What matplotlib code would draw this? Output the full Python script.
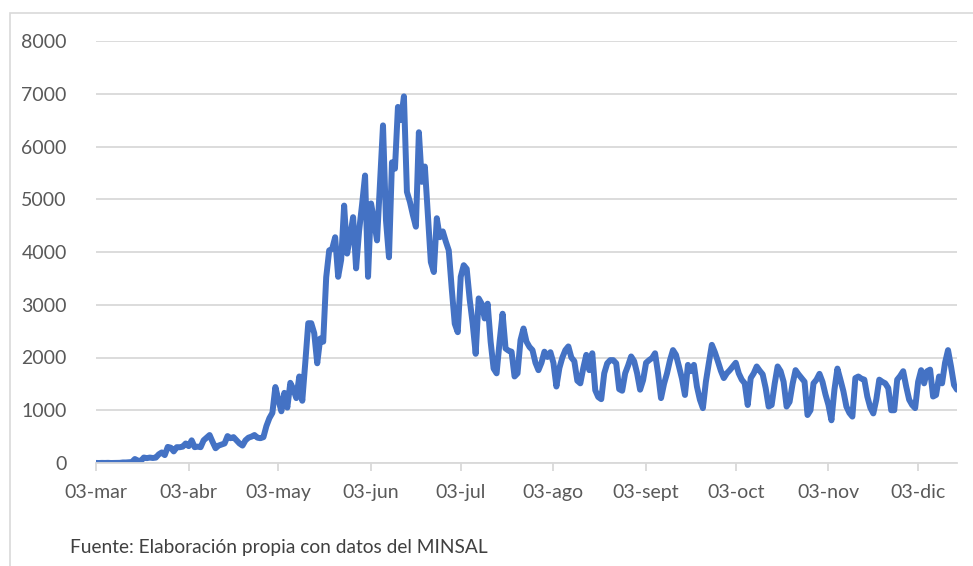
import numpy as np
import pandas as pd
import matplotlib
matplotlib.use('Agg')
import matplotlib.pyplot as plt
from matplotlib.patches import Rectangle

# daily new cases, from 03-mar-2020 to 16-dic-2020
casos = [
    1, 0, 2, 1, 3, 0, 1, 2, 3, 10, 10, 13, 18, 75, 46, 37, 104, 92, 103, 95,
    102, 164, 200, 150, 305, 290, 220, 300, 299, 310, 370, 320, 430, 300, 310, 300, 430, 480, 530, 400,
    280, 330, 350, 370, 510, 470, 490, 430, 370, 330, 430, 480, 500, 530, 480, 470, 490, 700, 850, 950,
    1440, 1200, 980, 1330, 1050, 1520, 1400, 1230, 1640, 1180, 1900, 2650, 2650, 2460, 1890, 2360, 2300, 3520, 4030, 4060,
    4280, 3530, 3850, 4880, 3970, 4300, 4660, 3690, 4400, 4900, 5450, 3530, 4920, 4600, 4220, 5300, 6400, 4600, 3900, 5700,
    5580, 6750, 6500, 6950, 5140, 4950, 4700, 4480, 6270, 5330, 5620, 4700, 3810, 3620, 4640, 4280, 4390, 4200, 4030, 3300,
    2640, 2480, 3530, 3750, 3680, 3100, 2640, 2070, 3120, 3020, 2740, 3020, 2300, 1790, 1700, 2300, 2830, 2170, 2130, 2110,
    1640, 1700, 2330, 2550, 2300, 2200, 2140, 1900, 1760, 1900, 2110, 2010, 2100, 1900, 1450, 1800, 2000, 2140, 2210, 2000,
    1930, 1560, 1510, 1800, 2050, 1760, 2080, 1380, 1250, 1210, 1700, 1890, 1950, 1950, 1890, 1400, 1370, 1700, 1850, 2020,
    1930, 1700, 1390, 1570, 1900, 1950, 1990, 2080, 1700, 1230, 1500, 1700, 1950, 2140, 2050, 1830, 1600, 1290, 1860, 1740,
    1860, 1450, 1200, 1040, 1540, 1900, 2240, 2100, 1930, 1750, 1610, 1700, 1760, 1830, 1900, 1700, 1580, 1510, 1100, 1610,
    1700, 1830, 1750, 1680, 1420, 1070, 1100, 1500, 1830, 1740, 1540, 1070, 1160, 1500, 1760, 1680, 1610, 1540, 910, 1000,
    1510, 1580, 1690, 1540, 1300, 1100, 810, 1390, 1790, 1580, 1360, 1070, 950, 880, 1610, 1640, 1600, 1580, 1260, 1050,
    940, 1200, 1580, 1540, 1510, 1420, 1000, 1000, 1580, 1650, 1740, 1450, 1200, 1100, 1040, 1540, 1760, 1510, 1740, 1770,
    1260, 1290, 1640, 1510, 1900, 2140, 1830, 1480, 1390,
]
fechas = pd.date_range('2020-03-03', periods=len(casos), freq='D')

meses = ['mar', 'abr', 'may', 'jun', 'jul', 'ago', 'sept', 'oct', 'nov', 'dic']
ticks_x = pd.to_datetime(['2020-03-03', '2020-04-03', '2020-05-03', '2020-06-03', '2020-07-03',
                          '2020-08-03', '2020-09-03', '2020-10-03', '2020-11-03', '2020-12-03'])
etiquetas_x = ['03-' + m for m in meses]
ticks_y = np.arange(0, 8001, 1000)

plt.rcParams['font.family'] = ['Lato', 'DejaVu Sans']

fig = plt.figure(figsize=(9.73, 5.66), dpi=100)
ax = fig.add_axes([96 / 973, 1 - 463 / 566, (957 - 96) / 973, (463 - 41) / 566])

ax.plot(fechas, casos, color='#4472C4', linewidth=4.3, solid_joinstyle='round', solid_capstyle='round')

ax.set_yticks(ticks_y)
ax.set_xticks(ticks_x)
ax.set_xticklabels(etiquetas_x)
ax.set_xlim(fechas[0], fechas[-1])
ax.set_ylim(0, 8000)
ax.grid(axis='y', color='#d9d9d9', linewidth=1.3)
ax.set_axisbelow(True)
for s in ['left', 'right', 'top']:
    ax.spines[s].set_visible(False)
ax.spines['bottom'].set_color('#d9d9d9')
ax.spines['bottom'].set_linewidth(1.3)
ax.tick_params(axis='y', length=0, pad=21, labelsize=14, labelcolor='#595959')
ax.tick_params(axis='x', length=6, width=1.3, color='#d9d9d9', pad=9, labelsize=14, labelcolor='#595959')

fig.text(70 / 973, 1 - 547 / 566, 'Fuente: Elaboración propia con datos del MINSAL',
         fontsize=13.8, color='#404040', va='center', ha='left')

# light frame around the chart area (cut at the right and bottom)
fig.patches.append(Rectangle((10 / 973, -0.1), 1.1, 1 - 12.5 / 566 + 0.1, transform=fig.transFigure,
                             fill=False, edgecolor='#d9d9d9', linewidth=1.2))

fig.savefig('out.png', dpi=100)
